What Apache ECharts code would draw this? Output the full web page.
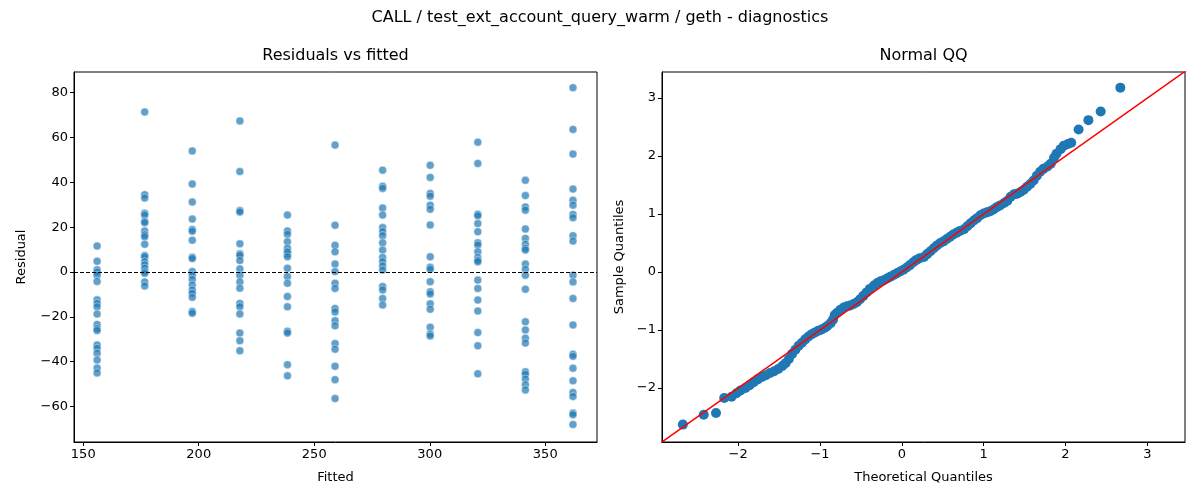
<!DOCTYPE html>
<html>
<head>
    <meta charset="utf-8">
    <title>diagnostics</title>
    <script src="https://cdn.jsdelivr.net/npm/echarts@6/dist/echarts.min.js"></script>
    <style>
        html, body { margin: 0; padding: 0; background: #fff; }
        #chart { width: 1200px; height: 500px; }
    </style>
</head>
<body>
    <div id="chart"></div>
    <script>
        // fitted value of each column of residuals
        var fitted = [156.0, 176.6, 197.2, 217.8, 238.4, 259.0, 279.6, 300.2, 320.8, 341.4, 362.0];

        // residuals, one list per fitted value
        var residuals = [
            [11.6, 4.8, 1.0, 0, -1.4, -4.2, -12.4, -14.0, -15.5, -18.7, -23.4, -25.2, -26.1, -32.5, -34.0, -36.2, -39.2, -42.8, -45.0],
            [71.4, 34.5, 33.0, 26.2, 25.4, 22.6, 22.0, 18.3, 16.6, 15.7, 12.4, 7.4, 6.8, 4.6, 3.2, 1.7, 0.2, -0.6, -4.4, -6.2],
            [54.0, 39.2, 31.2, 23.6, 19.0, 18.2, 14.2, 6.6, 6.0, 0.2, -1.4, -3.3, -5.8, -8.0, -9.5, -11.3, -17.6, -18.4],
            [67.4, 44.8, 27.4, 26.8, 12.6, 8.1, 7.4, 5.1, 1.4, -1.4, -4.4, -7.2, -14.0, -15.5, -18.7, -27.2, -30.6, -35.1],
            [25.4, 18.3, 16.8, 13.5, 10.6, 7.9, 9.0, 6.8, 1.7, -2.0, -5.0, -10.9, -15.5, -26.4, -27.2, -41.3, -46.3],
            [56.6, 20.9, 11.9, 9.0, 3.6, 0.2, -5.0, -7.3, -16.3, -17.8, -21.7, -24.0, -31.9, -34.4, -42.0, -48.0, -56.4],
            [45.4, 38.2, 37.3, 28.6, 25.4, 19.8, 18.0, 16.2, 13.0, 9.8, 6.5, 4.6, 2.7, 0.9, -6.5, -8.0, -11.8, -14.7],
            [47.6, 42.2, 35.0, 33.8, 29.8, 28.0, 21.0, 6.8, 2.1, 1.2, -4.3, -8.8, -9.8, -14.2, -16.6, -24.6, -27.6, -28.5],
            [57.9, 48.4, 25.8, 25.1, 21.6, 18.0, 13.0, 12.1, 9.0, 6.5, 5.3, 4.6, -3.6, -7.3, -12.5, -17.4, -27.0, -32.9, -45.4],
            [40.9, 34.1, 29.0, 27.6, 19.2, 15.0, 12.4, 10.6, 9.8, 3.6, 1.2, -1.4, -7.7, -22.2, -25.8, -29.5, -31.7, -44.5, -45.6, -47.7, -50.3, -52.6],
            [82.2, 63.6, 52.6, 37.0, 32.0, 29.8, 25.7, 24.2, 16.2, 13.8, -1.4, -4.4, -11.8, -23.6, -36.7, -37.6, -42.9, -48.5, -53.7, -55.5, -62.9, -63.6, -68.0]
        ];

        // Normal QQ: theoretical vs sample quantiles
        var qqTheo = [-2.675, -2.42, -2.27, -2.17, -2.08, -2.02, -1.97, -1.91, -1.86, -1.81, -1.76, -1.71, -1.66, -1.61,
            -1.56, -1.51, -1.46, -1.42, -1.38, -1.34, -1.30, -1.26, -1.22, -1.18, -1.14, -1.10, -1.06, -1.02, -0.98,
            -0.94, -0.91, -0.87, -0.84, -0.82, -0.79, -0.75, -0.71, -0.67, -0.63, -0.59, -0.55, -0.51, -0.47, -0.43,
            -0.39, -0.34, -0.30, -0.26, -0.22, -0.18, -0.14, -0.10, -0.06, -0.02, 0.02, 0.06, 0.10, 0.14, 0.18, 0.22,
            0.27, 0.31, 0.35, 0.39, 0.43, 0.47, 0.51, 0.55, 0.59, 0.63, 0.67, 0.71, 0.76, 0.80, 0.84, 0.88, 0.92, 0.96,
            1.00, 1.04, 1.08, 1.12, 1.16, 1.20, 1.25, 1.29, 1.33, 1.37, 1.41, 1.45, 1.49, 1.53, 1.57, 1.61, 1.65, 1.69,
            1.73, 1.78, 1.82, 1.86, 1.89, 1.94, 1.98, 2.03, 2.07, 2.16, 2.28, 2.43, 2.67];
        var qqSample = [-2.63, -2.46, -2.43, -2.17, -2.15, -2.09, -2.04, -2.00, -1.95, -1.90, -1.85, -1.81, -1.78, -1.74,
            -1.71, -1.67, -1.62, -1.57, -1.50, -1.41, -1.34, -1.27, -1.22, -1.16, -1.11, -1.07, -1.04, -1.01, -0.99,
            -0.96, -0.93, -0.88, -0.82, -0.74, -0.70, -0.65, -0.61, -0.59, -0.575, -0.55, -0.52, -0.47, -0.41, -0.35,
            -0.29, -0.23, -0.19, -0.16, -0.14, -0.11, -0.08, -0.05, -0.02, 0.01, 0.04, 0.08, 0.12, 0.17, 0.21, 0.24,
            0.26, 0.31, 0.36, 0.41, 0.46, 0.50, 0.53, 0.57, 0.61, 0.65, 0.68, 0.71, 0.74, 0.79, 0.84, 0.89, 0.93, 0.98,
            1.01, 1.03, 1.05, 1.08, 1.12, 1.15, 1.19, 1.23, 1.30, 1.34, 1.35, 1.38, 1.42, 1.47, 1.52, 1.58, 1.66, 1.73,
            1.78, 1.82, 1.87, 1.97, 2.04, 2.12, 2.18, 2.21, 2.23, 2.46, 2.62, 2.77, 3.18];

        // 45 degree reference line ends
        var qqLine = [-3, 3.5];

        var fittedTicks = [150, 200, 250, 300, 350];
        var residTicks = [-60, -40, -20, 0, 20, 40, 60, 80];
        var qqTicks = [-2, -1, 0, 1, 2, 3];

        var scatterData = [];
        fitted.forEach(function (f, i) {
            residuals[i].forEach(function (r) { scatterData.push([f, r]); });
        });
        var qqData = qqTheo.map(function (t, i) { return [t, qqSample[i]]; });

        var FONT = 'DejaVu Sans';
        function minus(v) { return String(v).replace('-', '\u2212'); }

        function axis(gridIndex, min, max, ticks, name, gap) {
            return {
                type: 'value',
                gridIndex: gridIndex,
                min: min,
                max: max,
                name: name,
                nameLocation: 'middle',
                nameGap: gap,
                nameTextStyle: { fontFamily: FONT, fontSize: 13, color: '#000' },
                axisLine: { show: true, onZero: false, lineStyle: { color: '#000', width: 1 } },
                axisTick: { show: true, inside: false, length: 4, customValues: ticks, lineStyle: { color: '#000' } },
                axisLabel: {
                    customValues: ticks, formatter: minus, margin: 6,
                    fontFamily: FONT, fontSize: 13, color: '#000'
                },
                splitLine: { show: false }
            };
        }

        var chart = echarts.init(document.getElementById('chart'), null, { renderer: 'canvas' });
        chart.setOption({
            animation: false,
            backgroundColor: '#fff',
            textStyle: { fontFamily: FONT },
            graphic: [
                { type: 'text', x: 600, y: 18, style: { text: 'CALL / test_ext_account_query_warm / geth - diagnostics', font: '16px "DejaVu Sans"', fill: '#000', align: 'center', verticalAlign: 'middle' } },
                { type: 'text', x: 335.5, y: 56, style: { text: 'Residuals vs fitted', font: '16px "DejaVu Sans"', fill: '#000', align: 'center', verticalAlign: 'middle' } },
                { type: 'text', x: 923.5, y: 56, style: { text: 'Normal QQ', font: '16px "DejaVu Sans"', fill: '#000', align: 'center', verticalAlign: 'middle' } }
            ],
            grid: [
                { left: 74, top: 72, width: 523, height: 370, show: true, borderColor: '#000', borderWidth: 1, backgroundColor: 'transparent' },
                { left: 662, top: 72, width: 523, height: 370, show: true, borderColor: '#000', borderWidth: 1, backgroundColor: 'transparent' }
            ],
            xAxis: [
                axis(0, 146, 372.4, fittedTicks, 'Fitted', 29),
                axis(1, -2.93, 3.46, qqTicks, 'Theoretical Quantiles', 29)
            ],
            yAxis: [
                axis(0, -75.8, 89.2, residTicks, 'Residual', 46),
                axis(1, -2.93, 3.45, qqTicks, 'Sample Quantiles', 36)
            ],
            series: [
                {
                    type: 'scatter',
                    xAxisIndex: 0, yAxisIndex: 0,
                    data: scatterData,
                    symbolSize: 8,
                    itemStyle: { color: '#1f77b4', opacity: 0.7, borderColor: '#fff', borderWidth: 0.6 },
                    markLine: {
                        silent: true,
                        symbol: 'none',
                        label: { show: false },
                        lineStyle: { color: '#000', width: 1, type: [4, 2] },
                        data: [{ yAxis: 0 }]
                    }
                },
                {
                    type: 'scatter',
                    xAxisIndex: 1, yAxisIndex: 1,
                    data: qqData,
                    symbolSize: 10,
                    itemStyle: { color: '#1f77b4', opacity: 1 },
                    z: 2
                },
                {
                    type: 'line',
                    xAxisIndex: 1, yAxisIndex: 1,
                    data: [[qqLine[0], qqLine[0]], [qqLine[1], qqLine[1]]],
                    symbol: 'none',
                    clip: true,
                    lineStyle: { color: '#ff0000', width: 1.5 },
                    z: 3
                }
            ]
        });
    </script>
</body>
</html>
